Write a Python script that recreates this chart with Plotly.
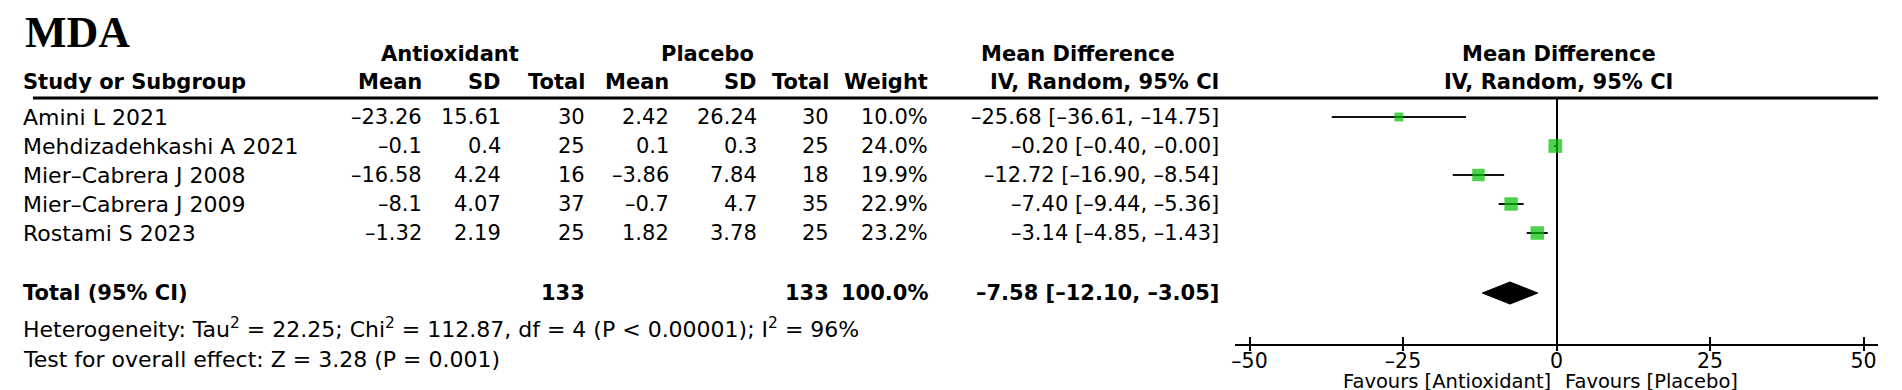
import plotly.graph_objects as go

# ---------------- data ----------------
studies = ["Amini L 2021", "Mehdizadehkashi A 2021", "Mier-Cabrera J 2008",
           "Mier-Cabrera J 2009", "Rostami S 2023"]
ant_mean = [-23.26, -0.1, -16.58, -8.1, -1.32]
ant_sd = [15.61, 0.4, 4.24, 4.07, 2.19]
ant_n = [30, 25, 16, 37, 25]
pla_mean = [2.42, 0.1, -3.86, -0.7, 1.82]
pla_sd = [26.24, 0.3, 7.84, 4.7, 3.78]
pla_n = [30, 25, 18, 35, 25]
weight = [10.0, 24.0, 19.9, 22.9, 23.2]
md = [-25.68, -0.20, -12.72, -7.40, -3.14]
ci_low = [-36.61, -0.40, -16.90, -9.44, -4.85]
ci_high = [-14.75, -0.00, -8.54, -5.36, -1.43]

total_label = "Total (95% CI)"
total_ant_n = 133
total_pla_n = 133
total_weight = 100.0
total_md = -7.58
total_low = -12.10
total_high = -3.05

heterogeneity = "Heterogeneity: Tau<sup>2</sup> = 22.25; Chi<sup>2</sup> = 112.87, df = 4 (P < 0.00001); I<sup>2</sup> = 96%"
overall = "Test for overall effect: Z = 3.28 (P = 0.001)"
tick_vals = [-50, -25, 0, 25, 50]
tick_labels = ["-50", "-25", "0", "25", "50"]
favours_left = "Favours [Antioxidant]"
favours_right = "Favours [Placebo]"

# ---------------- layout constants ----------------
W, H = 1902, 390
FONT = "DejaVu Sans"
FS = 21
Y0, PITCH = 109, 29.0          # pixel y of first study row, row pitch
HEADER_LINE = 90
AXIS_Y = 336
TOTAL_ROW = 6.07
LEFT = 10


def px(x):
    return x / W


def py(y):
    return 1 - y / H


def d(s):
    return str(s).replace("-", "\u2013")


rows = list(range(len(studies)))

fig = go.Figure()

# study CIs + squares
fig.add_trace(go.Scatter(
    x=md, y=rows, mode="markers",
    marker=dict(symbol="square", color="#00bf00",
                size=[2.8 * w ** 0.5 for w in weight],
                line=dict(width=0)),
    error_x=dict(type="data", symmetric=False,
                 array=[h - m for h, m in zip(ci_high, md)],
                 arrayminus=[m - l for m, l in zip(md, ci_low)],
                 color="#111111", thickness=2, width=0),
    hoverinfo="skip", showlegend=False, cliponaxis=False))

# pooled diamond
dh = 0.38
fig.add_trace(go.Scatter(
    x=[total_low, total_md, total_high, total_md, total_low],
    y=[TOTAL_ROW, TOTAL_ROW - dh, TOTAL_ROW, TOTAL_ROW + dh, TOTAL_ROW],
    mode="lines", fill="toself", fillcolor="black",
    line=dict(color="black", width=1), hoverinfo="skip",
    showlegend=False))

ann = []


def add(text, x, y, anchor="left", bold=False, size=FS, xref="paper",
        yref="paper", family=FONT, xshift=0):
    ann.append(dict(text=f"<b>{text}</b>" if bold else text, x=x, y=y,
                    xref=xref, yref=yref, xanchor=anchor, yanchor="middle",
                    showarrow=False, xshift=xshift,
                    font=dict(family=family, size=size, color="black")))


# title
add("MDA", px(LEFT + 2), py(25), bold=True, size=44, family="Liberation Serif")

# header row 1
add("Antioxidant", px(440), py(46), "center", True)
add("Placebo", px(698), py(46), "center", True)
add("Mean Difference", px(1069), py(46), "center", True)
add("Mean Difference", 0, py(46), "center", True, xref="x", xshift=2)

# header row 2
cols = [414, 493, 577, 661, 749, 821, 920, 1212]
add("Study or Subgroup", px(LEFT), py(74), "left", True)
for lab, cx in zip(["Mean", "SD", "Total", "Mean", "SD", "Total", "Weight",
                    "IV, Random, 95% CI"], cols):
    add(lab, px(cx), py(74), "right", True)
add("IV, Random, 95% CI", 0, py(74), "center", True, xref="x", xshift=2)

# study rows
for i in rows:
    vals = [d(ant_mean[i]), d(ant_sd[i]), d(ant_n[i]), d(pla_mean[i]),
            d(pla_sd[i]), d(pla_n[i]), f"{weight[i]:.1f}%",
            d(f"{md[i]:.2f} [{ci_low[i]:.2f}, {ci_high[i]:.2f}]")]
    add(d(studies[i]), px(LEFT), i, "left", yref="y", size=22)
    for v, cx in zip(vals, cols):
        add(v, px(cx), i, "right", yref="y")

# total row
add(total_label, px(LEFT), TOTAL_ROW, "left", True, yref="y")
add(str(total_ant_n), px(cols[2]), TOTAL_ROW, "right", True, yref="y")
add(str(total_pla_n), px(cols[5]), TOTAL_ROW, "right", True, yref="y")
add(f"{total_weight:.1f}%", px(cols[6]), TOTAL_ROW, "right", True, yref="y")
add(d(f"{total_md:.2f} [{total_low:.2f}, {total_high:.2f}]"), px(cols[7]),
    TOTAL_ROW, "right", True, yref="y")

# footnotes
add(heterogeneity, px(LEFT), py(320), "left", size=22)
add(overall, px(LEFT), py(351), "left", size=22)

# favours
add(favours_left, 0, py(373), "right", xref="x", size=19.5, xshift=-4)
add(favours_right, 0, py(373), "left", xref="x", size=19.5, xshift=6)

i_top = (HEADER_LINE - Y0) / PITCH
i_bot = (AXIS_Y - Y0) / PITCH
ZERO_PX, UNIT_PX = 1548, 6.15
xr = [-52.4, 52.4]
dom = [px(ZERO_PX + xr[0] * UNIT_PX), px(ZERO_PX + xr[1] * UNIT_PX)]

fig.update_layout(
    width=W, height=H, margin=dict(l=0, r=0, t=0, b=0),
    paper_bgcolor="white", plot_bgcolor="white",
    annotations=ann,
    shapes=[dict(type="line", xref="paper", yref="paper",
                 x0=px(LEFT + 12), x1=px(1870), y0=py(HEADER_LINE),
                 y1=py(HEADER_LINE), line=dict(color="black", width=3))],
    xaxis=dict(domain=dom, range=xr, tickvals=tick_vals,
               ticktext=[d(t) for t in tick_labels],
               ticks="inside", ticklen=7, tickwidth=2, tickcolor="black",
               ticklabelstandoff=-3,
               showline=True, linecolor="black", linewidth=2,
               showgrid=False, zeroline=True, zerolinecolor="black",
               zerolinewidth=2, anchor="y",
               tickfont=dict(family=FONT, size=20.5, color="black")),
    xaxis2=dict(domain=dom, range=xr, tickvals=tick_vals, overlaying="x",
                ticks="outside", ticklen=6, tickwidth=2, tickcolor="black",
                showticklabels=False, showline=False, showgrid=False,
                zeroline=False, anchor="y", side="bottom"),
    yaxis=dict(domain=[py(AXIS_Y), py(HEADER_LINE)], range=[i_bot, i_top],
               visible=False, showgrid=False, zeroline=False),
)

# empty trace on the overlaying axis so its ticks render
fig.add_trace(go.Scatter(x=[None], y=[None], xaxis="x2", yaxis="y",
                         showlegend=False, hoverinfo="skip"))

fig.write_html("out.html")
